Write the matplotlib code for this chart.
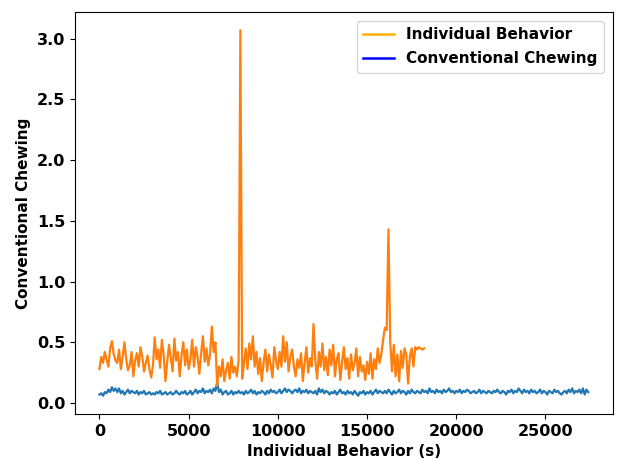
import numpy as np
import matplotlib
matplotlib.use("Agg")
import matplotlib.pyplot as plt
from matplotlib.lines import Line2D

step = 100  # sample spacing (s)

individual_behavior = [
    0.28, 0.38, 0.33, 0.42, 0.36, 0.30, 0.45, 0.51, 0.40, 0.35,
    0.33, 0.44, 0.28, 0.38, 0.50, 0.36, 0.27, 0.31, 0.42, 0.22,
    0.35, 0.41, 0.30, 0.46, 0.38, 0.26, 0.33, 0.39, 0.28, 0.21,
    0.31, 0.54, 0.36, 0.44, 0.29, 0.52, 0.40, 0.18, 0.34, 0.48,
    0.37, 0.26, 0.53, 0.35, 0.42, 0.22, 0.39, 0.50, 0.31, 0.44,
    0.28, 0.36, 0.52, 0.30, 0.46, 0.38, 0.24, 0.41, 0.55, 0.34,
    0.45, 0.31, 0.40, 0.63, 0.42, 0.50, 0.14, 0.30, 0.22, 0.36,
    0.18, 0.27, 0.33, 0.20, 0.38, 0.25, 0.30, 0.22, 0.35, 3.07,
    0.20, 0.32, 0.45, 0.28, 0.49, 0.36, 0.55, 0.30, 0.42, 0.24,
    0.37, 0.18, 0.33, 0.44, 0.26, 0.40, 0.31, 0.21, 0.46, 0.35,
    0.28, 0.42, 0.30, 0.55, 0.34, 0.50, 0.26, 0.38, 0.44, 0.30,
    0.22, 0.36, 0.29, 0.41, 0.18, 0.33, 0.46, 0.25, 0.37, 0.30,
    0.65, 0.35, 0.20, 0.42, 0.30, 0.49, 0.27, 0.38, 0.23, 0.44,
    0.31, 0.48, 0.22, 0.36, 0.41, 0.19, 0.34, 0.46, 0.28, 0.37,
    0.20, 0.40, 0.27, 0.33, 0.45, 0.22, 0.38, 0.26, 0.31, 0.19,
    0.34, 0.24, 0.41, 0.20, 0.36, 0.28, 0.45, 0.33, 0.40, 0.52,
    0.62, 0.60, 1.43, 0.50, 0.26, 0.48, 0.22, 0.40, 0.18, 0.43,
    0.29, 0.45, 0.40, 0.16, 0.38, 0.45, 0.30, 0.46, 0.44, 0.46,
    0.45, 0.44, 0.45,
]

conventional_chewing = [
    0.07, 0.08, 0.06, 0.09, 0.08, 0.11, 0.09, 0.13, 0.10, 0.12,
    0.09, 0.12, 0.08, 0.10, 0.07, 0.09, 0.11, 0.08, 0.10, 0.09,
    0.08, 0.10, 0.07, 0.09, 0.08, 0.10, 0.07, 0.08, 0.09, 0.07,
    0.08, 0.07, 0.09, 0.08, 0.10, 0.07, 0.08, 0.09, 0.07, 0.08,
    0.09, 0.07, 0.08, 0.10, 0.08, 0.07, 0.09, 0.08, 0.10, 0.07,
    0.08, 0.10, 0.07, 0.09, 0.11, 0.08, 0.10, 0.09, 0.12, 0.08,
    0.10, 0.09, 0.11, 0.08, 0.12, 0.10, 0.17, 0.09, 0.11, 0.07,
    0.09, 0.10, 0.07, 0.08, 0.10, 0.07, 0.09, 0.08, 0.10, 0.08,
    0.09, 0.07, 0.10, 0.08, 0.09, 0.11, 0.08, 0.10, 0.07, 0.09,
    0.08, 0.10, 0.09, 0.07, 0.10, 0.08, 0.11, 0.09, 0.10, 0.08,
    0.09, 0.11, 0.08, 0.10, 0.12, 0.09, 0.11, 0.10, 0.08, 0.10,
    0.11, 0.09, 0.12, 0.08, 0.10, 0.09, 0.11, 0.08, 0.10, 0.09,
    0.08, 0.10, 0.07, 0.12, 0.09, 0.11, 0.08, 0.10, 0.09, 0.07,
    0.09, 0.08, 0.10, 0.07, 0.09, 0.11, 0.08, 0.09, 0.07, 0.10,
    0.08, 0.09, 0.07, 0.10, 0.08, 0.06, 0.09, 0.08, 0.10, 0.07,
    0.09, 0.08, 0.10, 0.07, 0.09, 0.11, 0.08, 0.10, 0.09, 0.08,
    0.10, 0.08, 0.11, 0.09, 0.07, 0.10, 0.08, 0.09, 0.11, 0.08,
    0.10, 0.09, 0.07, 0.10, 0.08, 0.11, 0.09, 0.08, 0.10, 0.09,
    0.08, 0.11, 0.09, 0.10, 0.08, 0.12, 0.09, 0.10, 0.08, 0.11,
    0.09, 0.10, 0.08, 0.11, 0.09, 0.10, 0.12, 0.09, 0.10, 0.08,
    0.10, 0.09, 0.11, 0.08, 0.10, 0.09, 0.11, 0.10, 0.08, 0.09,
    0.10, 0.08, 0.09, 0.11, 0.08, 0.10, 0.09, 0.08, 0.10, 0.09,
    0.08, 0.10, 0.09, 0.11, 0.09, 0.08, 0.10, 0.09, 0.07, 0.10,
    0.09, 0.11, 0.08, 0.10, 0.09, 0.12, 0.10, 0.08, 0.11, 0.09,
    0.10, 0.08, 0.11, 0.09, 0.10, 0.08, 0.09, 0.11, 0.08, 0.10,
    0.09, 0.07, 0.10, 0.09, 0.08, 0.11, 0.09, 0.10, 0.08, 0.07,
    0.09, 0.10, 0.08, 0.11, 0.09, 0.12, 0.08, 0.10, 0.09, 0.11,
    0.08, 0.12, 0.07, 0.11, 0.09,
]

legend_labels = ["Individual Behavior", "Conventional Chewing"]
x_label = "Individual Behavior (s)"
y_label = "Conventional Chewing"

t_ib = np.arange(len(individual_behavior)) * step
t_cc = np.arange(len(conventional_chewing)) * step

plt.rcParams['font.family'] = ['DejaVu Sans']
plt.rcParams['font.weight'] = 'bold'

fig = plt.figure(figsize=(6.3, 4.59), dpi=100)
ax = fig.add_axes([75/630, 1 - 414/459, (612.7 - 75)/630, (414 - 12)/459])

ax.plot(t_cc, conventional_chewing, color='#1f77b4', lw=1.6)
ax.plot(t_ib, individual_behavior, color='#ff7f0e', lw=1.6)

ax.set_xticks([0, 5000, 10000, 15000, 20000, 25000])
ax.set_yticks([0.0, 0.5, 1.0, 1.5, 2.0, 2.5, 3.0])
ax.tick_params(labelsize=11.5)
for lbl in ax.get_xticklabels() + ax.get_yticklabels():
    lbl.set_fontweight('bold')

ax.set_xlabel(x_label, fontsize=11, fontweight='bold')
ax.set_ylabel(y_label, fontsize=11, fontweight='bold')

handles = [Line2D([], [], color='#FFB000', lw=1.8),
           Line2D([], [], color='#0000FF', lw=1.8)]
ax.legend(handles, legend_labels, loc='upper right',
          prop={'weight': 'bold', 'size': 11}, labelspacing=0.6,
          borderaxespad=0.6)

fig.savefig("out.png", dpi=100)
